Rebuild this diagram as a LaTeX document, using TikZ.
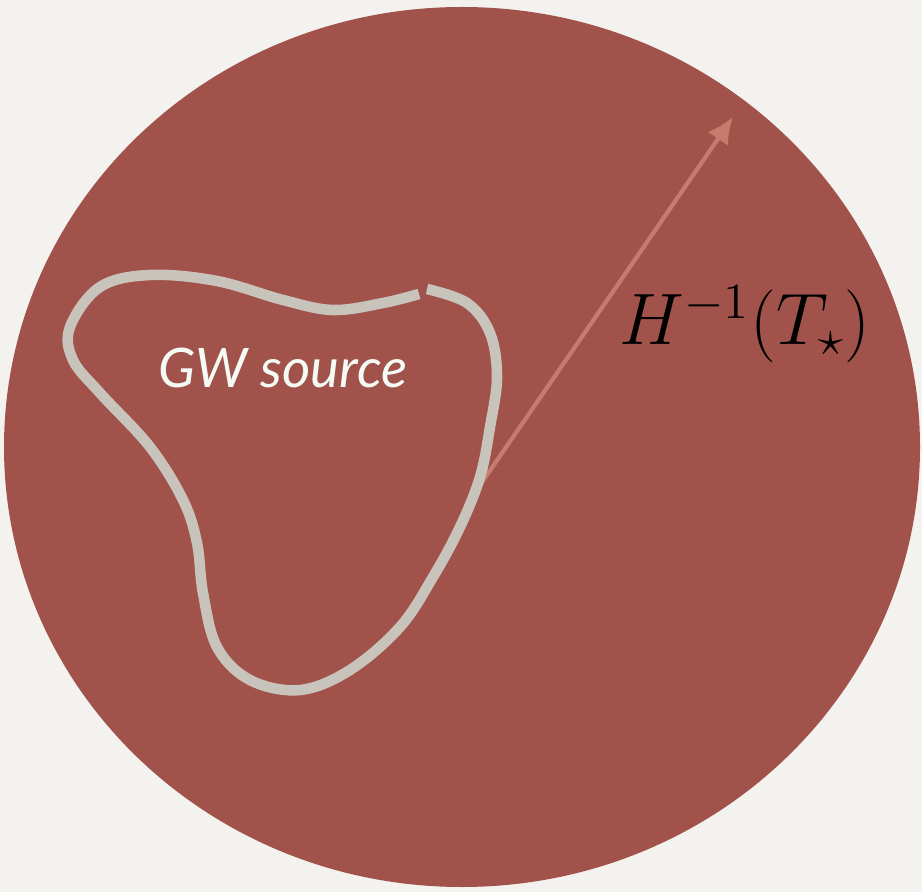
\documentclass[tikz,border=0pt]{standalone}
\usepackage{fontspec}
\newfontfamily\labelfont{Lato}
\usetikzlibrary{arrows.meta}
\definecolor{paper}{HTML}{F4F2EE}
\definecolor{disc}{HTML}{A0524B}
\definecolor{chalk}{HTML}{C9C4BB}
\definecolor{ray}{HTML}{C67B6E}
\definecolor{ink}{HTML}{F4FAF4}
\begin{document}
\begin{tikzpicture}[x=0.01cm,y=-0.01cm,
  chalkline/.style={draw=chalk,line width=3pt,line join=round},
  rayline/.style={draw=ray,line width=1.2pt,-{Latex[length=7.5pt,width=7pt]}}]
  % page and horizon disc
  \fill[paper] (0,0) rectangle (922,892);
  \fill[disc] (462,447) ellipse [x radius=458,y radius=440];
  % radius arrow
  \coordinate (foot) at (478,488);
  \coordinate (tip) at (733,117);
  \draw[rayline] (foot) -- (tip);
  % source contour (small break on the top edge)
  \draw[chalkline] plot[smooth,tension=0.6] coordinates {
    (427,289) (467,303) (490,333) (497,377) (490,427)
    (480,477) (460,527) (433,577) (400,627) (350,670) (300,690)
    (250,680) (217,647) (203,593) (197,543) (183,500) (150,447)
    (100,393) (73,360) (70,327) (100,287) (150,275) (217,281)
    (283,300) (333,310) (383,303) (419,294)};
  % labels
  \node[font=\labelfont\itshape\fontsize{15.5}{18}\selectfont,text=ink] (gw) at (283,368) {GW source};
  \node[anchor=base west,font=\fontsize{21}{25}\selectfont,inner sep=0pt] (horizon) at (619,345) {$H^{-1}(T_\star)$};
\end{tikzpicture}
\end{document}
